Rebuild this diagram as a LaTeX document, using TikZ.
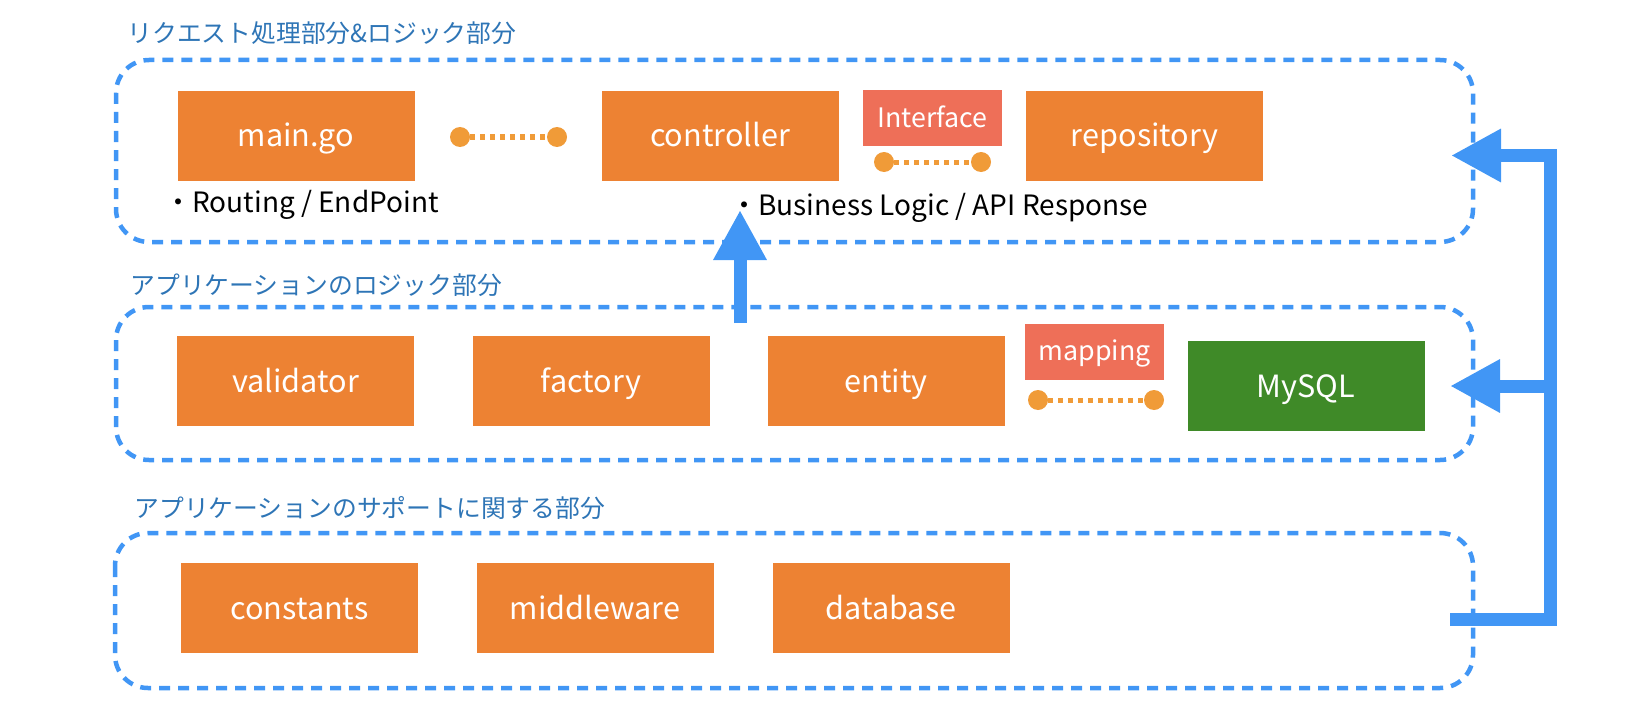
\documentclass[tikz,border=0pt]{standalone}
\usepackage{fontspec}
\setmainfont{Noto Sans CJK JP}
\usetikzlibrary{arrows.meta}

\definecolor{compOrange}{RGB}{237,130,51}
\definecolor{tagRed}{RGB}{238,111,88}
\definecolor{dbGreen}{RGB}{63,138,40}
\definecolor{dotOrange}{RGB}{240,155,56}
\definecolor{flowBlue}{RGB}{65,150,245}
\definecolor{titleBlue}{RGB}{46,117,182}

\tikzset{
  comp/.style={fill=compOrange, text=white, minimum width=118.5pt, minimum height=45pt,
    inner sep=0pt, text height=11pt, text depth=0pt, font=\fontsize{15.3}{18}\selectfont},
  tag/.style={fill=tagRed, text=white, minimum width=69.5pt, minimum height=28pt,
    inner sep=0pt, text height=9pt, text depth=0pt, font=\fontsize{13.4}{16}\selectfont},
  layer/.style={draw=flowBlue, line width=2.25pt, dash pattern=on 5.5pt off 4pt, rounded corners=16.5pt},
  layertitle/.style={anchor=west, inner sep=0pt, text=titleBlue, font=\fontsize{12.4}{14}\selectfont},
  note/.style={anchor=west, inner sep=0pt, font=\fontsize{14}{17}\selectfont},
  link/.style={draw=dotOrange, line width=2.5pt, dash pattern=on 2.5pt off 2.5pt},
  linkend/.style={fill=dotOrange},
  flow/.style={draw=flowBlue, line width=6.5pt, line join=miter, -{Triangle[length=25pt,width=25pt]}},
}

\begin{document}
\begin{tikzpicture}[x=0.5pt, y=-0.5pt]
  \useasboundingbox (0,0) rectangle (1648,722);

  % layers
  \node[layertitle] (t1) at (127,33) {リクエスト処理部分\&ロジック部分};
  \draw[layer] (116,60) rectangle (1473,242);
  \node[layertitle] (t2) at (130,285) {アプリケーションのロジック部分};
  \draw[layer] (116,307) rectangle (1473,460);
  \node[layertitle] (t3) at (134,508) {アプリケーションのサポートに関する部分};
  \draw[layer] (115,533) rectangle (1473,688);

  % request / logic
  \node[comp] (main) at (296,136) {main.go};
  \node[comp] (ctrl) at (720,136) {controller};
  \node[comp] (repo) at (1144.5,136) {repository};
  \node[tag] (iface) at (932.5,118) {Interface};
  \node[note] (routing) at (164,205) {・Routing / EndPoint};
  \node[note] (business) at (730,208) {・Business Logic / API Response};

  \coordinate (mainend) at (460,137);
  \coordinate (ctrlend) at (557,137);
  \draw[link] (mainend) -- (ctrlend);
  \fill[linkend] (mainend) circle (5pt) (ctrlend) circle (5pt);

  \coordinate (ifacel) at (884,162);
  \coordinate (ifacer) at (981,162);
  \draw[link] (ifacel) -- (ifacer);
  \fill[linkend] (ifacel) circle (5pt) (ifacer) circle (5pt);

  % application logic
  \node[comp] (valid) at (295.5,381) {validator};
  \node[comp] (fact) at (591,381) {factory};
  \node[comp] (ent) at (886,381) {entity};
  \node[tag] (mapping) at (1094.5,351.5) {mapping};
  \node[comp, fill=dbGreen] (mysql) at (1306,386) {MySQL};

  \coordinate (mapl) at (1038,400);
  \coordinate (mapr) at (1154,400);
  \draw[link] (mapl) -- (mapr);
  \fill[linkend] (mapl) circle (5pt) (mapr) circle (5pt);

  % support
  \node[comp] (const) at (299.5,608) {constants};
  \node[comp] (mw) at (595,608) {middleware};
  \node[comp] (db) at (891,608) {database};

  % flows
  \coordinate (upfrom) at (740,323);
  \coordinate (upto) at (740,210);
  \draw[flow] (upfrom) -- (upto);

  \coordinate (bus) at (1550,386);
  \coordinate (in1) at (1451,155.5);
  \coordinate (in2) at (1450,386);
  \coordinate (out3) at (1450,619);
  \draw[flow] (out3) -- (out3 -| bus) -- (in1 -| bus) -- (in1);
  \draw[flow] (bus) -- (in2);
\end{tikzpicture}
\end{document}
